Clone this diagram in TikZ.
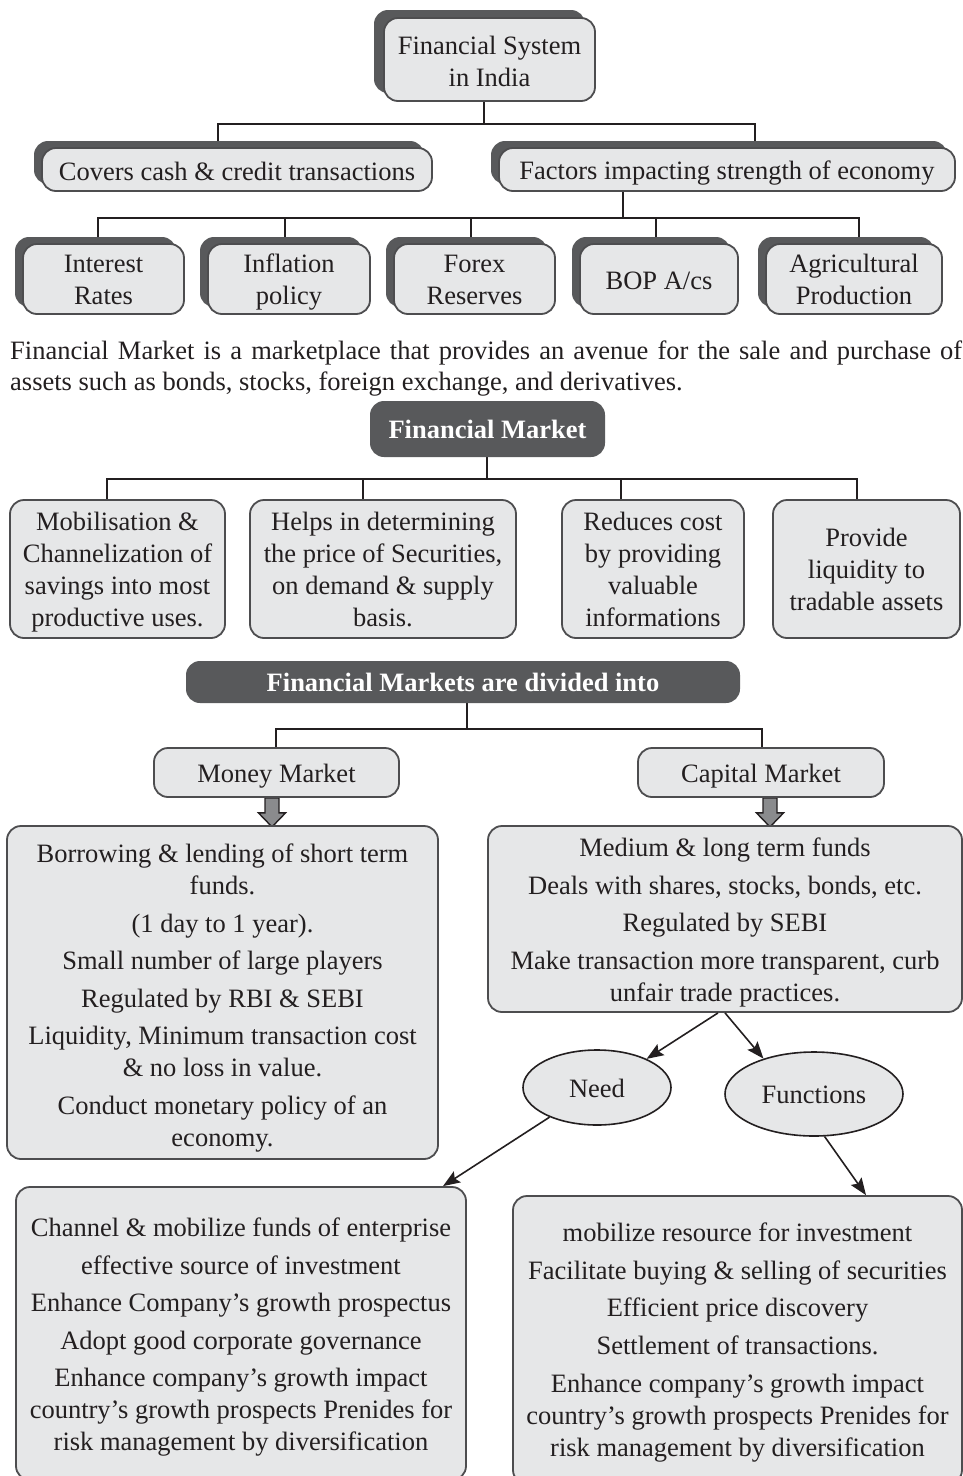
\documentclass[tikz,border=0pt]{standalone}
\usepackage{fontspec}
\setmainfont{Liberation Serif}
\usetikzlibrary{shadows,arrows.meta,shapes.geometric,backgrounds}

\definecolor{boxfill}{HTML}{E6E7E8}
\definecolor{boxline}{HTML}{4D4D4F}
\definecolor{darkfill}{HTML}{58595B}
\definecolor{ink}{HTML}{231F20}
\definecolor{arrowfill}{HTML}{8A8B8D}

% room kept above the first line of a multi-line box
\newcommand\firstrow[1][24pt]{\rule{0pt}{#1}}

\begin{document}
\begin{tikzpicture}[x=1pt,y=-1pt,
  every node/.style={font=\fontsize{26.5}{32}\selectfont, text=ink, inner sep=0pt},
  size/.style 2 args={minimum width=#1, minimum height=#2},
  % fixed height above and depth below a single line
  struts/.style={execute at begin node={\rule{0pt}{#1}},
                 execute at end node={\rule[-5pt]{0pt}{5pt}}},
  struts/.default=26pt,
  card/.style={draw=boxline, fill=boxfill, line width=1.8pt, rounded corners=14pt, align=center, struts},
  shadowed/.style={card, general shadow={fill=darkfill, shadow xshift=-8pt, shadow yshift=7pt}},
  bigshadowed/.style={card, general shadow={fill=darkfill, shadow xshift=-10pt, shadow yshift=8pt}},
  darkcard/.style={fill=darkfill, rounded corners=14pt, text=white, align=center, struts=23pt,
    font=\fontsize{26.5}{32}\selectfont\bfseries},
  bubble/.style={ellipse, draw=ink, fill=boxfill, line width=1.6pt, struts=24pt},
  link/.style={draw=ink, line width=1.6pt},
  pointer/.style={draw=ink, line width=1.6pt, -{Stealth[length=17pt,width=13pt,inset=3pt]}},
  blockarrow/.style={draw=ink, fill=arrowfill, line width=1.4pt, line join=miter},
]
\useasboundingbox (0,0) rectangle (963,1476);

% ---------- Financial system ----------
\node[bigshadowed, size={211pt}{83pt}] (top) at (489.5,59.5) {\firstrow[26pt]Financial System\\in India};
\node[shadowed, size={390pt}{43pt}] (cov) at (237,169.5) {Covers cash \& credit transactions};
\node[shadowed, size={456pt}{43pt}] (fac) at (727,169.5) {Factors impacting strength of economy};

\node[shadowed, size={161pt}{70pt}] (r1) at (103.5,279) {\firstrow Interest\\Rates};
\node[shadowed, size={162pt}{70pt}] (r2) at (289,279) {\firstrow Inflation\\policy};
\node[shadowed, size={161pt}{70pt}] (r3) at (474.5,279) {\firstrow Forex\\Reserves};
\node[shadowed, size={158pt}{70pt}] (r4) at (659,279) {BOP A/cs};
\node[shadowed, size={176pt}{70pt}] (r5) at (854,279) {\firstrow Agricultural\\Production};

\coordinate (j0) at (484,124);
\coordinate (j1) at (218,124);
\coordinate (j2) at (755,124);
\coordinate (k0) at (623,218);
\coordinate (k1) at (98,218);
\coordinate (k2) at (285,218);
\coordinate (k3) at (471,218);
\coordinate (k4) at (656,218);
\coordinate (k5) at (859,218);

% ---------- definition ----------
\node[anchor=base west] (def1) at (10,359)
  {\makebox[952pt][s]{Financial Market is a marketplace that provides an avenue for the sale and purchase of}};
\node[anchor=base west] (def2) at (10,390)
  {assets such as bonds, stocks, foreign exchange, and derivatives.};

% ---------- Financial market roles ----------
\node[darkcard, size={235pt}{56pt}] (fm) at (487.5,429) {Financial Market};
\node[card, size={215pt}{138pt}] (ma) at (117.5,569) {\firstrow Mobilisation \&\\Channelization of\\savings into most\\productive uses.};
\node[card, size={266pt}{138pt}] (mb) at (383,569) {\firstrow Helps in determining\\the price of Securities,\\on demand \& supply\\basis.};
\node[card, size={182pt}{138pt}] (mc) at (653,569) {\firstrow Reduces cost\\by providing\\valuable\\informations};
\node[card, size={187pt}{138pt}] (md) at (866.5,569) {\firstrow Provide\\liquidity to\\tradable assets};

\coordinate (f0) at (487,479);
\coordinate (f1) at (107,479);
\coordinate (f2) at (363,479);
\coordinate (f3) at (621,479);
\coordinate (f4) at (857,479);

% ---------- Division ----------
\node[darkcard, size={554pt}{42pt}] (div) at (463,682) {Financial Markets are divided into};
\node[card, size={245pt}{49pt}] (money) at (276.5,772.5) {Money Market};
\node[card, size={246pt}{49pt}] (cap) at (761,772.5) {Capital Market};

\coordinate (d0) at (467,729);
\coordinate (d1) at (276,729);
\coordinate (d2) at (762,729);

\node[card, size={431pt}{333pt}] (mbox) at (222.5,992.5)
  {\firstrow[30pt]Borrowing \& lending of short term\\funds.\\[5.5pt]
   (1 day to 1 year).\\[5.5pt]
   Small number of large players\\[5.5pt]
   Regulated by RBI \& SEBI\\[5.5pt]
   Liquidity, Minimum transaction cost\\\& no loss in value.\\[6pt]
   Conduct monetary policy of an\\economy.};

\node[card, size={474pt}{186pt}] (cbox) at (725,919)
  {\firstrow[26pt]Medium \& long term funds\\[5.5pt]
   Deals with shares, stocks, bonds, etc.\\[5.5pt]
   Regulated by SEBI\\[5.5pt]
   Make transaction more transparent, curb\\unfair trade practices.};

\node[bubble, size={148pt}{75pt}] (need) at (597,1087.5) {Need};
\node[bubble, size={178pt}{84pt}] (func) at (814,1094) {Functions};

\node[card, size={450pt}{293pt}] (nb) at (241,1333.5)
  {\firstrow[26pt]Channel \& mobilize funds of enterprise\\[5.5pt]
   effective source of investment\\[5.5pt]
   Enhance Company's growth prospectus\\[5.5pt]
   Adopt good corporate governance\\[5.5pt]
   Enhance company's growth impact\\country's growth prospects Prenides for\\risk management by diversification};

\node[card, size={449pt}{288pt}] (fb) at (737.5,1340)
  {\firstrow mobilize resource for investment\\[5.5pt]
   Facilitate buying \& selling of securities\\[5.5pt]
   Efficient price discovery\\[5.5pt]
   Settlement of transactions.\\[6pt]
   Enhance company's growth impact\\country's growth prospects Prenides for\\risk management by diversification};

% ---------- connectors ----------
\begin{scope}[on background layer]
  \draw[link] (top.south -| j0) -- (j0);
  \draw[link] (cov.north -| j1) -- (j1) -- (j2) -- (fac.north -| j2);
  \draw[link] (fac.south -| k0) -- (k0);
  \draw[link] (r1.north -| k1) -- (k1) -- (k5) -- (r5.north -| k5);
  \draw[link] (k2) -- (r2.north -| k2);
  \draw[link] (k3) -- (r3.north -| k3);
  \draw[link] (k4) -- (r4.north -| k4);

  \draw[link] (fm.south -| f0) -- (f0);
  \draw[link] (ma.north -| f1) -- (f1) -- (f4) -- (md.north -| f4);
  \draw[link] (f2) -- (mb.north -| f2);
  \draw[link] (f3) -- (mc.north -| f3);

  \draw[link] (div.south -| d0) -- (d0);
  \draw[link] (money.north -| d1) -- (d1) -- (d2) -- (cap.north -| d2);

  % block arrows below the market boxes
  \draw[blockarrow] ([xshift=-4.5pt]money.south) ++(-7,0) -- ++(0,15) -- ++(-6.5,0)
    -- ++(13.5,14) -- ++(13.5,-14) -- ++(-6.5,0) -- ++(0,-15) -- cycle;
  \draw[blockarrow] ([xshift=9pt]cap.south) ++(-7,0) -- ++(0,15) -- ++(-6.5,0)
    -- ++(13.5,14) -- ++(13.5,-14) -- ++(-6.5,0) -- ++(0,-15) -- cycle;
\end{scope}

\draw[pointer] ([xshift=-7pt]cbox.south) -- (need.30);
\draw[pointer] (cbox.south) -- (func.145);
\draw[pointer] (need.212) -- ([xshift=202pt]nb.north);
\draw[pointer] (func.284) -- ([xshift=128.5pt]fb.north);
\end{tikzpicture}
\end{document}
